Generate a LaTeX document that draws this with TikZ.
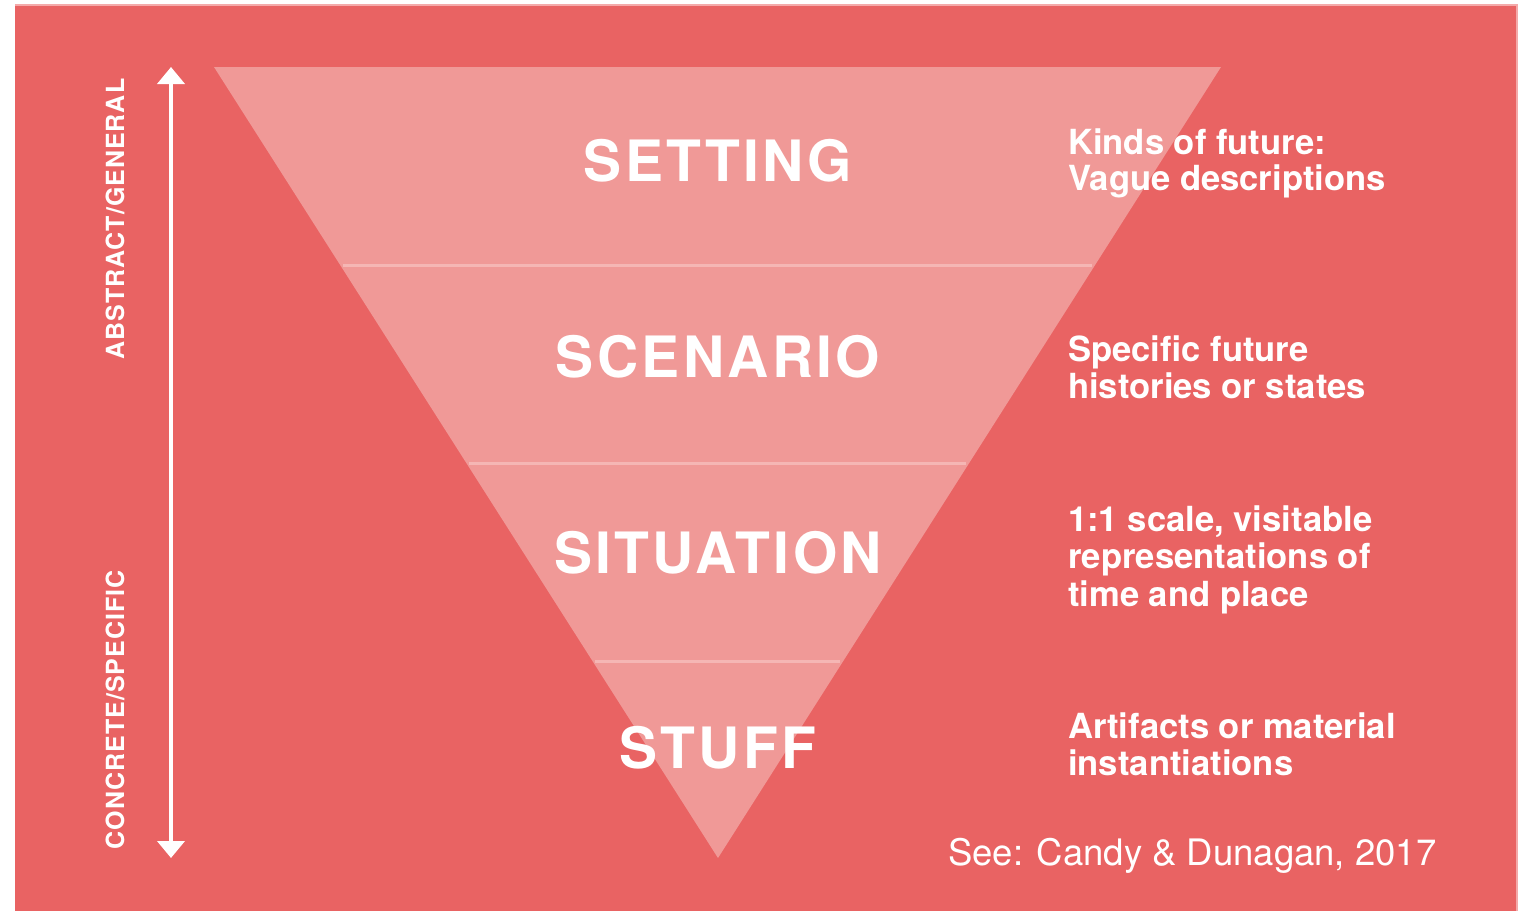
\documentclass[tikz,border=0pt]{standalone}
\usepackage{fontspec}
\setmainfont{TeX Gyre Heros}
\usetikzlibrary{arrows.meta}
\definecolor{bgred}{RGB}{233,99,99}
\definecolor{tri}{RGB}{240,153,151}
\definecolor{sepc}{RGB}{245,182,180}
\definecolor{edgec}{RGB}{244,170,170}
\begin{document}
\begin{tikzpicture}[x=1pt,y=-1pt,
  title/.style={text=white, inner sep=0pt, anchor=base,
    font=\fontsize{57}{60}\selectfont\bfseries\addfontfeatures{LetterSpace=6}},
  desc/.style={text=white, inner sep=0pt, anchor=base west,
    font=\fontsize{34.6}{37}\selectfont\bfseries},
  side/.style={text=white, inner sep=0pt, rotate=90,
    font=\fontsize{25}{27}\selectfont\bfseries\addfontfeatures{LetterSpace=4}},
  sepline/.style={draw=sepc, line width=3pt},
  dblarrow/.style={draw=white, line width=4pt,
    {Triangle[width=27pt,length=17pt]}-{Triangle[width=27pt,length=17pt]}}
]
\useasboundingbox (0,0) rectangle (1529,911);
\fill[white] (0,0) rectangle (1529,911);
\fill[bgred] (15,4) rectangle (1517,911);
\fill[edgec] (15,3.5) rectangle (1517,5.5);
\fill[edgec] (1515.5,4) rectangle (1518,911);

% inverted triangle
\fill[tri] (214,67) -- (1221,67) -- (718,858) -- cycle;

% band separators
\draw[sepline] (343,265) -- (1092,265);
\draw[sepline] (469,463) -- (966,463);
\draw[sepline] (595,661) -- (840,661);

% band titles
\node[title] (setting)   at (718,181) {SETTING};
\node[title] (scenario)  at (718,377) {SCENARIO};
\node[title] (situation) at (718,573) {SITUATION};
\node[title] (stuff)     at (718,768) {STUFF};

% descriptions
\node[desc] (d1a) at (1068,154) {Kinds of future:};
\node[desc] (d1b) at (1068,190) {Vague descriptions};
\node[desc] (d2a) at (1068,361) {Specific future};
\node[desc] (d2b) at (1068,398) {histories or states};
\node[desc] (d3a) at (1068,531) {1:1 scale, visitable};
\node[desc] (d3b) at (1068,568) {representations of};
\node[desc] (d3c) at (1068,606) {time and place};
\node[desc] (d4a) at (1068,738) {Artifacts or material};
\node[desc] (d4b) at (1068,775) {instantiations};

% reference
\node[text=white, inner sep=0pt, anchor=base west,
  font=\fontsize{36.5}{40}\selectfont] (ref) at (948,865) {See: Candy \& Dunagan, 2017};

% vertical axis
\coordinate (atop) at (171,67);
\coordinate (abot) at (171,858);
\draw[dblarrow] (abot) -- (atop);
\node[side] (abstract) at (115,219) {ABSTRACT/GENERAL};
\node[side] (concrete) at (115,710) {CONCRETE/SPECIFIC};
\end{tikzpicture}
\end{document}
